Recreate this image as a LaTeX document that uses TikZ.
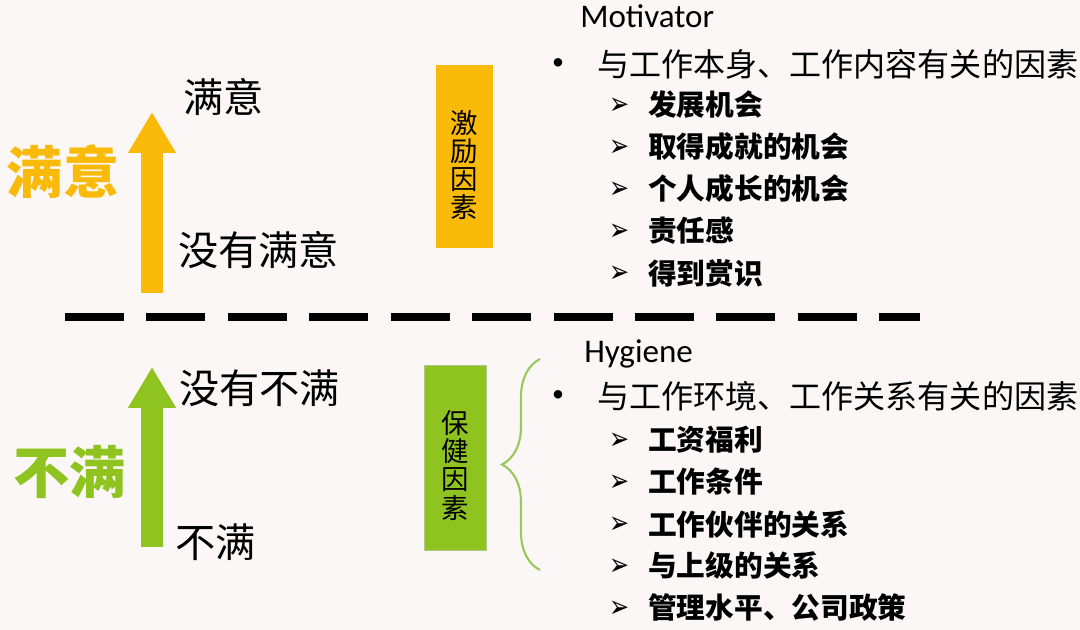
\documentclass[tikz,border=0pt]{standalone}
\usepackage{fontspec}
\setmainfont{Noto Sans CJK SC}
\newfontfamily\heavyfont{Noto Sans CJK SC Black}
\newfontfamily\latinfont{Carlito}
\newfontfamily\symfont{DejaVu Sans}
\usetikzlibrary{arrows.meta,decorations.pathreplacing}
\definecolor{satorange}{RGB}{250,186,10}
\definecolor{disgreen}{RGB}{143,195,31}
\definecolor{bracegreen}{RGB}{155,200,90}
\definecolor{paper}{RGB}{250,247,246}

\begin{document}
\begin{tikzpicture}[x=0.025cm,y=-0.025cm,
    bigword/.style={inner sep=0,font=\heavyfont\fontsize{40}{40}\selectfont},
    sideword/.style={inner sep=0,anchor=west,font=\fontsize{28.6}{29}\selectfont},
    factorbox/.style={inner sep=0},
    boxtext/.style={inner sep=0,align=center,font=\fontsize{19.5}{20}\selectfont},
    fatarrow/.style={line width=0.57cm,-{Triangle[length=1.02cm,width=1.125cm]}},
    headline/.style={inner sep=0,anchor=base west,font=\latinfont\fontsize{23.5}{24}\selectfont},
    mainline/.style={inner sep=0,anchor=west,font=\fontsize{22.8}{23}\selectfont},
    subline/.style={inner sep=0,anchor=west,font=\fontsize{20.4}{21}\selectfont\bfseries},
    dot/.style={inner sep=0,font=\latinfont\fontsize{17}{17}\selectfont},
    tip/.style={inner sep=0,font=\symfont\fontsize{17}{17}\selectfont}]
    \fill[paper] (0,0) rectangle (1080,630);
    \useasboundingbox (0,0) rectangle (1080,630);

    \node[bigword,text=satorange] (satBig) at (63,172) {满意};
    \coordinate (satLow) at (152,293);
    \coordinate (satHigh) at (152,112);
    \draw[fatarrow,satorange] (satLow) -- (satHigh);
    \node[sideword] (satTop) at (183,97) {满意};
    \node[sideword] (satBottom) at (178,250) {没有满意};
    \node[factorbox,fill=satorange,minimum width=1.425cm,minimum height=4.575cm]
      (motBox) at (464.5,156.5) {};
    \node[boxtext] (motText) at ([yshift=-0.22cm]motBox.center) {激\\励\\因\\素};

    \coordinate (divL) at (65,317);
    \coordinate (divR) at (920,317);
    \draw[line width=0.2cm,dash pattern=on 1.475cm off 0.56cm] (divL) -- (divR);

    \node[bigword,text=disgreen] (disBig) at (70,472) {不满};
    \coordinate (disLow) at (152,547);
    \coordinate (disHigh) at (152,367);
    \draw[fatarrow,disgreen] (disLow) -- (disHigh);
    \node[sideword] (disTop) at (179,388) {没有不满};
    \node[sideword] (disBottom) at (175,542) {不满};
    \node[factorbox,fill=disgreen,draw={rgb,255:red,175;green,200;blue,140},
      minimum width=1.55cm,minimum height=4.625cm]
      (hygBox) at (455,457.5) {};
    \node[boxtext] (hygText) at ([yshift=-0.2cm]hygBox.center) {保\\健\\因\\素};
    \coordinate (braceBot) at (540,570);
    \coordinate (braceTop) at (540,359);
    \draw[bracegreen,line width=1.5pt,
      decorate,decoration={brace,amplitude=0.95cm}] (braceBot) -- (braceTop);

    \node[headline] (mot) at (580,28) {Motivator};
    \node[dot] (motDot) at (558,64) {•};
    \node[mainline] (motMain) at (597,64) {与工作本身、工作内容有关的因素};
    \foreach \txt [count=\i] in {发展机会,取得成就的机会,个人成长的机会,责任感,得到赏识}{
      \node[tip] (motTip\i) at (620,{106+42*(\i-1)}) {\scalebox{1}[1.3]{➢}};
      \node[subline] (motItem\i) at (648,{105+42*(\i-1)}) {\txt};
    }

    \node[headline] (hyg) at (584,362) {Hygiene};
    \node[dot] (hygDot) at (558,396) {•};
    \node[mainline] (hygMain) at (597,396) {与工作环境、工作关系有关的因素};
    \foreach \txt [count=\i] in {工资福利,工作条件,工作伙伴的关系,与上级的关系,管理水平、公司政策}{
      \node[tip] (hygTip\i) at (620,{441+42*(\i-1)}) {\scalebox{1}[1.3]{➢}};
      \node[subline] (hygItem\i) at (648,{440+42*(\i-1)}) {\txt};
    }
\end{tikzpicture}
\end{document}
